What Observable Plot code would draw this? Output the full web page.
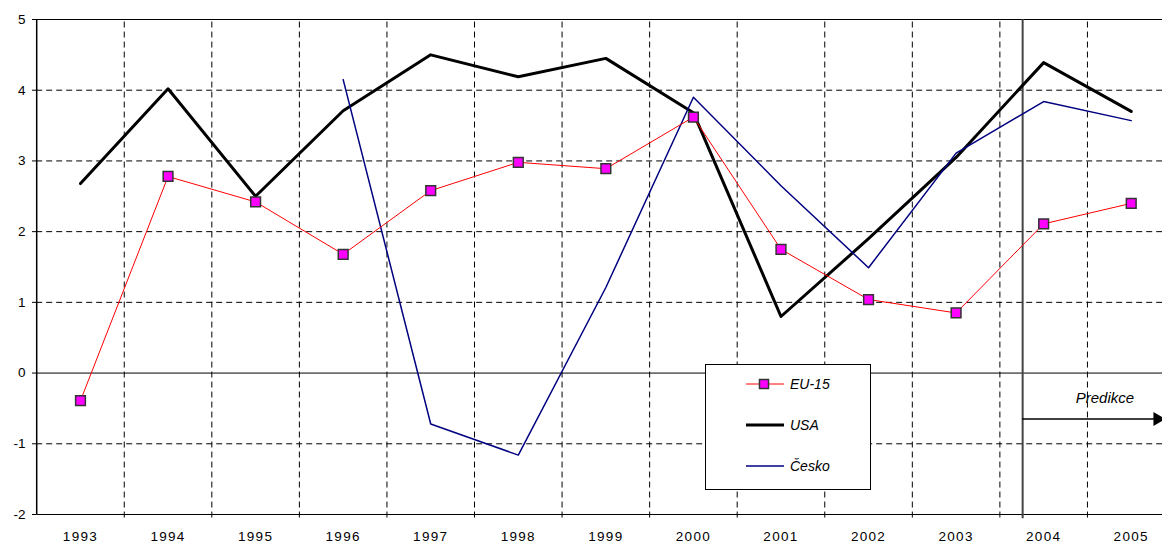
<!DOCTYPE html>
<html><head><meta charset="utf-8">
<script src="https://cdn.jsdelivr.net/npm/d3@7"></script>
<script src="https://cdn.jsdelivr.net/npm/@observablehq/plot@0.6"></script>
<style>
body{margin:0;background:#fff;font-family:"Liberation Sans",Arial,sans-serif;}
#wrap{position:relative;width:1162px;height:543px;overflow:hidden;background:#fff;}
#wrap svg g[aria-label="x-axis tick label"] text{font-size:13.5px;letter-spacing:1.3px;}
#wrap svg g[aria-label="y-axis tick label"] text{font-size:13.5px;}
#legend{position:absolute;left:705px;top:364px;width:164px;height:124px;border:1px solid #000;background:#fff;}
.item{position:absolute;left:39px;height:20px;display:flex;align-items:center;font-style:italic;font-size:14px;color:#000;}
.item svg{display:block;margin-right:5px;}
</style></head><body><div id="wrap"></div>
<script>
const years = [1993, 1994, 1995, 1996, 1997, 1998, 1999, 2000, 2001, 2002, 2003, 2004, 2005];
const eu15  = [-0.39, 2.78, 2.42, 1.68, 2.58, 2.98, 2.89, 3.62, 1.75, 1.04, 0.85, 2.11, 2.40];
const usa   = [2.68, 4.02, 2.50, 3.71, 4.50, 4.19, 4.45, 3.68, 0.80, 1.90, 3.05, 4.39, 3.70];
const cesko = [null, null, null, 4.15, -0.72, -1.16, 1.21, 3.90, 2.65, 1.49, 3.11, 3.84, 3.57];
const yTicks = [-2, -1, 0, 1, 2, 3, 4, 5];
const seriesNames = ["EU-15", "USA", "Česko"];
const predikceLabel = "Predikce";
const predikceStart = 2003.76;
const predikceEnd = 2005.3;
const predikceArrowY = -0.65;
const predikceTextPos = [2004.7, -0.35];

const gridX = years.slice(0, -1).map(y => y + 0.5);
const gridYDashed = [-1, 1, 2, 3, 4];
const gridYSolid = [-2, 0, 5];
const xMin = years[0] - 0.5, xMax = years[years.length - 1] + 0.5;

const euData = years.map((y, i) => ({year: y, v: eu15[i]}));
const usaData = years.map((y, i) => ({year: y, v: usa[i]}));
const czData = years.map((y, i) => ({year: y, v: cesko[i]})).filter(d => d.v != null);

const dash = "6,4";
const chart = Plot.plot({
  width: 1162, height: 543,
  marginLeft: 36, marginRight: 0, marginTop: 19, marginBottom: 29,
  style: {fontFamily: "'Liberation Sans', Arial, sans-serif", fontSize: "13px", background: "white", color: "#000"},
  x: {type: "linear", domain: [xMin, xMax], range: [36.2, 1174.5]},
  y: {domain: [yTicks[0], yTicks[yTicks.length - 1]]},
  marks: [
    Plot.ruleX(gridX, {y1: -2.05, y2: 5, stroke: "#000", strokeDasharray: dash, strokeWidth: 1}),
    Plot.ruleY(gridYDashed, {x1: xMin, x2: xMax, stroke: "#000", strokeDasharray: dash, strokeWidth: 1}),
    Plot.ruleY(gridYSolid, {x1: xMin, x2: xMax, stroke: "#000", strokeWidth: 1}),
    Plot.ruleX([xMin], {y1: -2, y2: 5, stroke: "#000", strokeWidth: 1.5}),
    Plot.ruleX([predikceStart], {y1: -2.06, y2: 5, stroke: "#444", strokeWidth: 2}),
    Plot.ruleY([predikceArrowY], {x1: predikceStart, x2: predikceEnd, stroke: "#000", strokeWidth: 1.5}),
    Plot.dot([[predikceEnd, predikceArrowY]], {x: d => d[0], y: d => d[1], symbol: "triangle", rotate: 90, fill: "#000", r: 5.2}),
    Plot.text([predikceLabel], {x: predikceTextPos[0], y: predikceTextPos[1], text: d => d, fontStyle: "italic", fontSize: 15, fill: "#000"}),
    Plot.line(usaData, {x: "year", y: "v", stroke: "#000", strokeWidth: 3}),
    Plot.line(czData, {x: "year", y: "v", stroke: "#000080", strokeWidth: 1.5}),
    Plot.line(euData, {x: "year", y: "v", stroke: "#ff0000", strokeWidth: 1}),
    Plot.dot(euData, {x: "year", y: "v", symbol: "square", fill: "#ff00ff", stroke: "#333", strokeWidth: 1.5, r: 5.5}),
    Plot.axisY({ticks: yTicks, tickSize: 4, tickPadding: 7, label: null, tickFormat: d => String(d)}),
    Plot.axisX({ticks: years, tickSize: 0, tickPadding: 17, tickFormat: d => String(d), label: null})
  ]
});
const wrap = document.getElementById("wrap");
wrap.appendChild(chart);

// legend
const legend = document.createElement("div");
legend.id = "legend";
const samples = [
  `<svg width="40" height="14"><line x1="1" y1="7" x2="39" y2="7" stroke="#ff0000" stroke-width="1"/><rect x="14.5" y="2.5" width="9" height="9" fill="#ff00ff" stroke="#333" stroke-width="1.5"/></svg>`,
  `<svg width="40" height="14"><line x1="1" y1="7" x2="39" y2="7" stroke="#000" stroke-width="3"/></svg>`,
  `<svg width="40" height="14"><line x1="1" y1="7" x2="39" y2="7" stroke="#000080" stroke-width="1.5"/></svg>`
];
const tops = [9, 50, 91];
seriesNames.forEach((name, i) => {
  const it = document.createElement("div");
  it.className = "item";
  it.style.top = tops[i] + "px";
  it.innerHTML = samples[i] + `<span>${name}</span>`;
  legend.appendChild(it);
});
wrap.appendChild(legend);
</script>
</body></html>
